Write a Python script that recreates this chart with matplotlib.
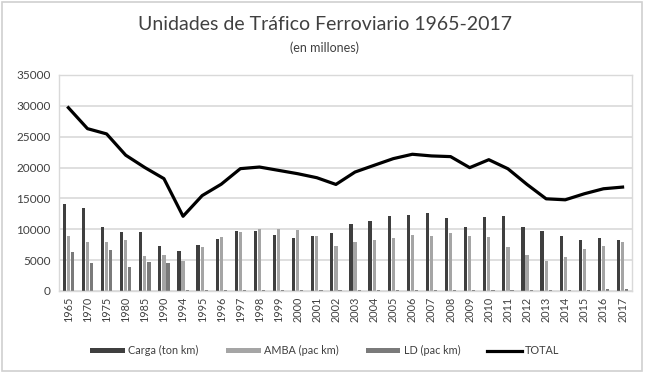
import matplotlib.pyplot as plt
import numpy as np
from matplotlib.patches import Rectangle

years = ['1965', '1970', '1975', '1980', '1985', '1990', '1994', '1995', '1996', '1997',
         '1998', '1999', '2000', '2001', '2002', '2003', '2004', '2005', '2006', '2007',
         '2008', '2009', '2010', '2011', '2012', '2013', '2014', '2015', '2016', '2017']

carga = [14100, 13500, 10400, 9550, 9550, 7350, 6500, 7450, 8400, 9770,
         9770, 9120, 8600, 8960, 9340, 10860, 11400, 12100, 12380, 12650,
         11780, 10420, 11940, 12100, 10310, 9770, 8960, 8310, 8520, 8310]
amba = [8960, 7870, 7870, 8300, 5700, 5800, 4900, 7200, 8700, 9500,
        10050, 10040, 9930, 8960, 7330, 7870, 8300, 8580, 9120, 8850,
        9340, 8960, 8690, 7170, 5860, 4890, 5430, 6790, 7330, 7980]
ld = [6350, 4600, 6680, 3960, 4720, 4600, 100, 120, 120, 150,
      150, 150, 150, 150, 120, 150, 150, 150, 150, 150,
      150, 150, 150, 120, 120, 120, 120, 150, 300, 300]
total = [29700, 26300, 25450, 22000, 20000, 18200, 12100, 15450, 17300, 19820,
         20080, 19540, 19000, 18350, 17260, 19270, 20360, 21440, 22150, 21880,
         21770, 19980, 21270, 19800, 17260, 14930, 14770, 15750, 16560, 16830]

plt.rcParams['font.family'] = ['Lato', 'DejaVu Sans']

fig = plt.figure(figsize=(6.5, 3.73), dpi=100)
ax = fig.add_axes([0.0905, 0.22, 0.882, 0.579])

x = np.arange(len(years))
w = 0.17
b1 = ax.bar(x - 0.215, carga, w, color='#3f3f3f', label='Carga (ton km)', zorder=2)
b2 = ax.bar(x, amba, w, color='#a5a5a5', label='AMBA (pac km)', zorder=2)
b3 = ax.bar(x + 0.215, ld, w, color='#7a7a7a', label='LD (pac km)', zorder=2)
l1, = ax.plot(x, total, color='black', lw=2.3, label='TOTAL', zorder=3)

ax.set_xlim(-0.5, len(years) - 0.5)
ax.set_ylim(0, 35000)
ax.set_yticks(range(0, 35001, 5000))
ax.set_xticks(x)
ax.set_xticklabels(years, rotation=90, fontsize=7.8, color='#404040')
ax.tick_params(axis='y', labelsize=8.5, labelcolor='#404040', length=0, pad=6)
ax.tick_params(axis='x', length=0, pad=4)
ax.grid(axis='y', color='#d9d9d9', lw=1.2, zorder=0)
for s in ax.spines.values():
    s.set_color('#d9d9d9')
    s.set_linewidth(1.0)

fig.text(0.5, 0.935, 'Unidades de Tráfico Ferroviario 1965-2017', ha='center', va='center',
         fontsize=14, color='#404040')
fig.text(0.5, 0.873, '(en millones)', ha='center', va='center', fontsize=9, color='#404040')

leg = fig.legend(handles=[b1, b2, b3, l1], loc='center', bbox_to_anchor=(0.5, 0.06), ncol=4,
                 frameon=False, fontsize=7.8, handlelength=3.2, handleheight=0.35,
                 columnspacing=2.5, handletextpad=0.3)
for t in leg.get_texts():
    t.set_color('#404040')

fig.patches.append(Rectangle((0.003, 0.005), 0.985, 0.99, transform=fig.transFigure,
                             fill=False, edgecolor='#d0d0d0', lw=1.2))

fig.savefig('out.png', dpi=100)
